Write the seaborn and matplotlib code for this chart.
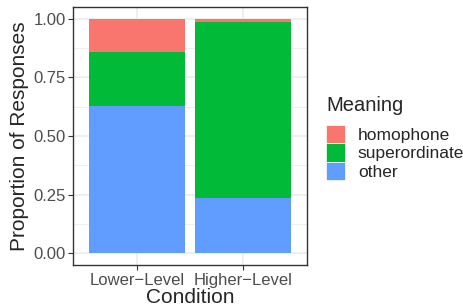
import numpy as np
import pandas as pd
import matplotlib
matplotlib.use("Agg")
import matplotlib.pyplot as plt
import matplotlib.patches as mpatches
import seaborn as sns

# Data
conditions = ["Lower\u2212Level", "Higher\u2212Level"]
meanings = ["homophone", "superordinate", "other"]
other = [0.630, 0.236]
superordinate = [0.227, 0.751]
homophone = [0.143, 0.013]
colors = {"homophone": "#F8766D", "superordinate": "#00BA38", "other": "#619CFF"}

sns.set_style("white")
plt.rcParams["font.family"] = ["Liberation Sans", "DejaVu Sans"]

df = pd.DataFrame({
    "Condition": conditions * 3,
    "Meaning": ["other"] * 2 + ["superordinate"] * 2 + ["homophone"] * 2,
    "prop": other + superordinate + homophone,
})

fig = plt.figure(figsize=(4.63, 3.06), dpi=100)
ax = fig.add_axes([0.158, 0.134, 0.505, 0.843])

# stacked bars: draw cumulative totals from top level down
stack_order = ["other", "superordinate", "homophone"]
df["cum"] = 0.0
for cond in conditions:
    m = df["Condition"] == cond
    sub = df[m].set_index("Meaning").loc[stack_order]
    df.loc[m, "cum"] = df.loc[m, "Meaning"].map(sub["prop"].cumsum())

for lvl in meanings:
    d = df[df["Meaning"] == lvl]
    sns.barplot(data=d, x="Condition", y="cum", order=conditions,
                color=colors[lvl], saturation=1, width=0.9,
                linewidth=0, ax=ax, zorder=2)

ax.set_xlim(-0.6, 1.6)
ax.set_ylim(-0.05, 1.05)
ax.set_yticks([0, 0.25, 0.5, 0.75, 1.0])
ax.set_yticklabels(["0.00", "0.25", "0.50", "0.75", "1.00"])
ax.set_yticks([0.125, 0.375, 0.625, 0.875], minor=True)

ax.grid(True, which="major", color="#EBEBEB", linewidth=1.1, zorder=0)
ax.grid(True, which="minor", axis="y", color="#EBEBEB", linewidth=0.55, zorder=0)
ax.set_axisbelow(True)
for s in ax.spines.values():
    s.set_color("#333333")
    s.set_linewidth(1.0)

ax.tick_params(axis="both", which="major", length=3.5, width=0.8, color="#333333",
               labelsize=12, labelcolor="#4D4D4D", pad=2, left=True, bottom=True)
ax.tick_params(axis="both", which="minor", length=0)
ax.set_xlabel("Condition", fontsize=15, labelpad=0)
ax.set_ylabel("Proportion of Responses", fontsize=15, labelpad=3)

# legend (title placed separately to get ggplot-like spacing)
fig.text(326 / 463, 1 - 111 / 306, "Meaning", fontsize=14.5, ha="left", va="baseline")
handles = [mpatches.Patch(facecolor=colors[m], edgecolor="white", linewidth=0.5, label=m)
           for m in meanings]
leg = fig.legend(handles=handles, loc="upper left",
                 bbox_to_anchor=(326 / 463, 1 - 125 / 306), frameon=False, fontsize=12.5,
                 handlelength=1.08, handleheight=1.25, borderpad=0,
                 handletextpad=0.75, labelspacing=0.0, borderaxespad=0)

fig.savefig("out.png", dpi=100)
